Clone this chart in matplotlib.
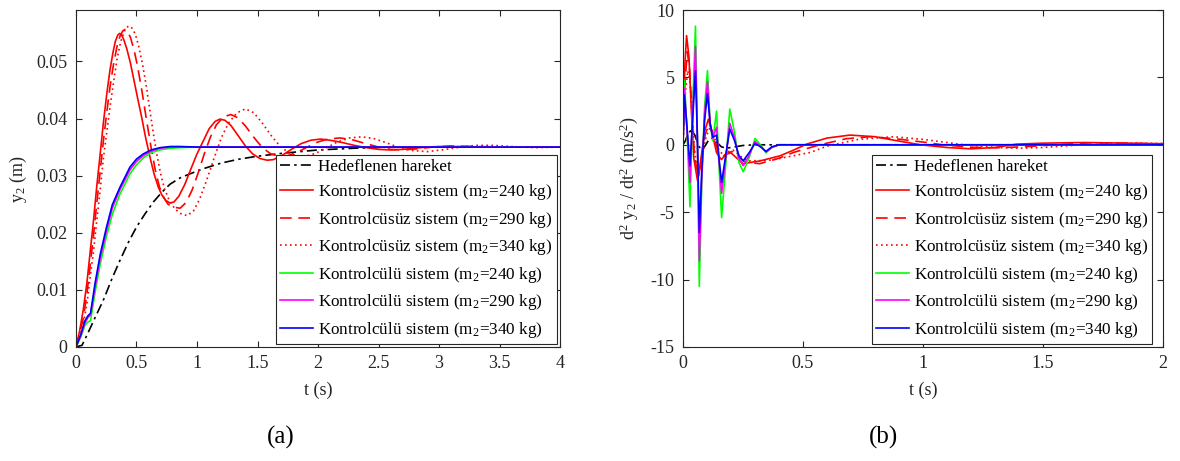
import matplotlib
matplotlib.use("Agg")
from matplotlib import pyplot as plt

plt.rcParams['font.family'] = ['Liberation Serif', 'DejaVu Serif']
plt.rcParams['mathtext.fontset'] = 'stix'
plt.rcParams['axes.unicode_minus'] = False

# ---- (a) displacement y2 (m) ----
t_ref_a = [0, 0.05, 0.1, 0.15, 0.226, 0.3, 0.364, 0.43, 0.5, 0.57, 0.64, 0.71, 0.777,
           0.86, 0.94, 1.05, 1.2, 1.35, 1.5, 1.7, 2.0, 2.3, 2.6, 4.0]
y_ref_a = [0, 0.0003, 0.0025, 0.0048, 0.0082, 0.0121, 0.0152, 0.0182, 0.021, 0.0233, 0.0254,
           0.0271, 0.0285, 0.0296, 0.0303, 0.0312, 0.0322, 0.0329, 0.0334, 0.0339, 0.0345,
           0.0348, 0.035, 0.035]

t_u240_a = [0, 0.03, 0.06, 0.09, 0.116, 0.145, 0.171, 0.2, 0.226, 0.255, 0.281, 0.305, 0.325,
            0.345, 0.36, 0.375, 0.395, 0.42, 0.45, 0.48, 0.51, 0.543, 0.575, 0.612, 0.645,
            0.68, 0.71, 0.74, 0.777, 0.81, 0.85, 0.9, 0.95, 1.0, 1.05, 1.1, 1.15, 1.19, 1.23,
            1.28, 1.34, 1.4, 1.46, 1.52, 1.58, 1.63, 1.7, 1.78, 1.86, 1.94, 2.02, 2.1, 2.2,
            2.3, 2.4, 2.5, 2.6, 2.7, 2.8, 2.9, 3.0, 3.2, 3.4, 4.0]
y_u240_a = [0, 0.0028, 0.0065, 0.0112, 0.0164, 0.0222, 0.028, 0.0338, 0.0392, 0.0444, 0.0485,
            0.0515, 0.0535, 0.0546, 0.0549, 0.0547, 0.0538, 0.0522, 0.0497, 0.0466, 0.0435,
            0.0402, 0.0367, 0.0332, 0.0303, 0.028, 0.0266, 0.0257, 0.0252, 0.0254, 0.0264,
            0.0285, 0.0312, 0.0338, 0.036, 0.0382, 0.0395, 0.0399, 0.0397, 0.0388, 0.037,
            0.0352, 0.0338, 0.033, 0.0327, 0.0328, 0.0335, 0.0346, 0.0356, 0.0362, 0.0364,
            0.0362, 0.0358, 0.0353, 0.0349, 0.0346, 0.0345, 0.0346, 0.0348, 0.035, 0.0351,
            0.0351, 0.035, 0.035]

t_u290_a = [0, 0.03, 0.06, 0.09, 0.116, 0.145, 0.171, 0.2, 0.226, 0.255, 0.281, 0.31, 0.34,
            0.365, 0.385, 0.405, 0.425, 0.45, 0.48, 0.51, 0.545, 0.584, 0.62, 0.655, 0.69,
            0.725, 0.76, 0.8, 0.86, 0.91, 0.96, 1.01, 1.06, 1.11, 1.16, 1.22, 1.28, 1.34,
            1.4, 1.47, 1.54, 1.61, 1.68, 1.75, 1.83, 1.92, 2.0, 2.08, 2.18, 2.28, 2.38, 2.5,
            2.6, 2.7, 2.82, 2.95, 3.1, 3.3, 3.6, 4.0]
y_u290_a = [0, 0.0022, 0.005, 0.0093, 0.014, 0.0196, 0.025, 0.0308, 0.036, 0.0412, 0.0455,
            0.0495, 0.0527, 0.0545, 0.0553, 0.0556, 0.0553, 0.0542, 0.052, 0.049, 0.0448,
            0.0396, 0.035, 0.031, 0.028, 0.0262, 0.025, 0.0245, 0.0243, 0.0253, 0.0275,
            0.0305, 0.0338, 0.0367, 0.0389, 0.0403, 0.0407, 0.0401, 0.0387, 0.0367, 0.0349,
            0.0338, 0.0334, 0.0335, 0.0341, 0.0351, 0.0359, 0.0364, 0.0366, 0.0363, 0.0357,
            0.035, 0.0346, 0.0345, 0.0347, 0.035, 0.0352, 0.0351, 0.035, 0.035]

t_u340_a = [0, 0.03, 0.06, 0.09, 0.116, 0.145, 0.171, 0.2, 0.226, 0.255, 0.281, 0.31, 0.34,
            0.37, 0.4, 0.42, 0.44, 0.46, 0.49, 0.52, 0.55, 0.58, 0.61, 0.64, 0.67, 0.7, 0.73,
            0.77, 0.82, 0.87, 0.92, 0.97, 1.02, 1.08, 1.14, 1.2, 1.26, 1.33, 1.4, 1.47, 1.54,
            1.61, 1.68, 1.75, 1.82, 1.9, 1.98, 2.07, 2.16, 2.26, 2.36, 2.46, 2.56, 2.66, 2.78,
            2.9, 3.02, 3.15, 3.3, 3.45, 3.6, 3.8, 4.0]
y_u340_a = [0, 0.0018, 0.004, 0.0075, 0.012, 0.0168, 0.022, 0.0275, 0.033, 0.0377, 0.042,
            0.0463, 0.0505, 0.0535, 0.0553, 0.056, 0.0562, 0.0559, 0.0548, 0.0525, 0.0495,
            0.0458, 0.0415, 0.0373, 0.0335, 0.0303, 0.0278, 0.0257, 0.0241, 0.0233, 0.023,
            0.0238, 0.0258, 0.0292, 0.033, 0.0366, 0.0392, 0.041, 0.0417, 0.041, 0.0392,
            0.0371, 0.0353, 0.0341, 0.0335, 0.0334, 0.0339, 0.0349, 0.0359, 0.0366, 0.0368,
            0.0365, 0.0358, 0.035, 0.0344, 0.0342, 0.0345, 0.0349, 0.0353, 0.0353, 0.0351,
            0.0349, 0.035]

t_c_a = [0, 0.04, 0.074, 0.1, 0.12, 0.157, 0.2, 0.25, 0.3, 0.364, 0.446, 0.5, 0.556, 0.62,
         0.694, 0.78, 0.86, 1.0, 4.0]
y_c240_a = [0, 0.0018, 0.0038, 0.0044, 0.0046, 0.0095, 0.0145, 0.0192, 0.0232, 0.0268,
            0.0303, 0.0319, 0.0331, 0.034, 0.0345, 0.0348, 0.0349, 0.035, 0.035]
y_c290_a = [0, 0.002, 0.0042, 0.0052, 0.0056, 0.0104, 0.0155, 0.0202, 0.0243, 0.0276,
            0.031, 0.0325, 0.0335, 0.0343, 0.0348, 0.035, 0.035, 0.035, 0.035]
y_c340_a = [0, 0.0022, 0.0046, 0.0055, 0.0059, 0.0111, 0.0162, 0.0208, 0.0249, 0.028,
            0.0315, 0.0329, 0.0338, 0.0345, 0.0349, 0.0351, 0.0351, 0.035, 0.035]

# ---- (b) acceleration d2y2/dt2 (m/s^2) ----
t_ref_b = [0, 0.01, 0.02, 0.035, 0.05, 0.065, 0.08, 0.095, 0.11, 0.125, 0.14, 0.16, 0.18,
           0.2, 0.25, 0.3, 0.4, 2.0]
a_ref_b = [0, 0.3, 0.8, 1.1, 0.7, -0.1, -0.4, 0.0, 0.45, 0.5, 0.2, -0.15, -0.25, -0.2, -0.05,
           0, 0, 0]

t_u240_b = [0, 0.008, 0.015, 0.025, 0.035, 0.045, 0.061, 0.075, 0.09, 0.106, 0.12, 0.14,
            0.16, 0.18, 0.2, 0.225, 0.25, 0.32, 0.404, 0.46, 0.515, 0.6, 0.696, 0.8, 0.876,
            0.99, 1.1, 1.2, 1.3, 1.39, 1.5, 1.67, 1.85, 2.0]
a_u240_b = [0, 6.0, 8.1, 6.5, 2.5, -1.0, -2.7, -1.0, 1.0, 1.9, 1.0, -0.6, -1.1, -0.7, -0.6,
            -1.0, -1.4, -1.2, -0.82, -0.4, 0.05, 0.5, 0.72, 0.6, 0.35, 0.0, -0.2, -0.3,
            -0.2, 0.05, 0.12, 0.17, 0.12, 0.08]

t_u290_b = [0, 0.008, 0.018, 0.028, 0.038, 0.048, 0.064, 0.078, 0.093, 0.11, 0.125, 0.145,
            0.165, 0.185, 0.205, 0.23, 0.26, 0.32, 0.4, 0.46, 0.57, 0.68, 0.78, 0.9, 1.015,
            1.08, 1.2, 1.3, 1.42, 1.55, 1.7, 1.85, 2.0]
a_u290_b = [0, 4.5, 6.9, 5.5, 2.2, -0.8, -2.4, -1.0, 0.8, 1.6, 0.8, -0.5, -0.9, -0.6, -0.5,
            -0.9, -1.3, -1.4, -1.0, -0.57, 0.0, 0.45, 0.6, 0.42, 0.17, 0.0, -0.18, -0.22,
            -0.15, 0.0, 0.15, 0.12, 0.05]

t_u340_b = [0, 0.008, 0.02, 0.03, 0.04, 0.05, 0.066, 0.08, 0.096, 0.113, 0.13, 0.15, 0.17,
            0.19, 0.21, 0.235, 0.27, 0.36, 0.45, 0.53, 0.6, 0.73, 0.876, 1.0, 1.1, 1.17, 1.3,
            1.4, 1.5, 1.62, 1.8, 2.0]
a_u340_b = [0, 3.5, 5.5, 4.5, 1.8, -0.7, -2.2, -0.9, 0.6, 1.3, 0.6, -0.4, -0.8, -0.5, -0.4,
            -0.8, -1.2, -1.15, -0.85, -0.57, -0.1, 0.4, 0.6, 0.4, 0.17, 0.0, -0.2, -0.25,
            -0.2, -0.05, 0.12, 0.1]

t_c_b = [0, 0.006, 0.018, 0.029, 0.04, 0.052, 0.06, 0.068, 0.078, 0.09, 0.102, 0.113, 0.124,
         0.14, 0.15, 0.161, 0.178, 0.195, 0.215, 0.233, 0.251, 0.275, 0.3, 0.323, 0.346,
         0.37, 0.4, 0.5, 2.0]
a_c240_b = [0, 4.8, 0.6, -4.6, 2.5, 8.8, 0.5, -10.5, -3.0, 2.8, 5.5, 1.6, 0.3, 2.5, -1.5,
            -5.4, -1.5, 2.65, 0.9, -1.3, -2.0, -1.0, 0.47, 0.0, -0.6, -0.2, 0, 0, 0]
a_c290_b = [0, 4.2, 0.8, -2.8, 2.2, 7.3, 0.5, -8.6, -2.5, 2.3, 4.7, 1.6, 0.5, 1.3, -1.2,
            -3.6, -1.0, 1.6, 0.5, -1.0, -1.55, -0.8, 0.25, -0.1, -0.5, -0.2, 0, 0, 0]
a_c340_b = [0, 3.7, 1.0, -1.55, 1.8, 5.5, 0.5, -6.5, -2.0, 1.8, 3.8, 1.6, 0.55, 0.72, -1.0,
            -2.8, -0.8, 1.17, 0.3, -0.8, -1.19, -0.6, 0.1, -0.15, -0.5, -0.15, 0, 0, 0]

labels = ['Hedeflenen hareket',
          r'Kontrolcüsüz sistem (m$_\mathregular{2}$=240 kg)',
          r'Kontrolcüsüz sistem (m$_\mathregular{2}$=290 kg)',
          r'Kontrolcüsüz sistem (m$_\mathregular{2}$=340 kg)',
          r'Kontrolcülü sistem (m$_\mathregular{2}$=240 kg)',
          r'Kontrolcülü sistem (m$_\mathregular{2}$=290 kg)',
          r'Kontrolcülü sistem (m$_\mathregular{2}$=340 kg)']

axcol = '#262626'
lw = 1.2


def style_axes(ax):
    for s in ax.spines.values():
        s.set_color(axcol)
        s.set_linewidth(0.8)
    ax.tick_params(direction='in', top=True, right=True, length=4, width=0.8,
                   colors=axcol, labelsize=13, labelcolor=axcol, pad=6)


def draw_lines(ax, series, anchor):
    styles = [dict(color='k', ls=(0, (6, 2.5, 1.5, 2.5))),
              dict(color='r', ls='-'),
              dict(color='r', ls=(0, (7, 4))),
              dict(color='r', ls=(0, (1, 2))),
              dict(color=(0, 1, 0), ls='-'),
              dict(color=(1, 0, 1), ls='-'),
              dict(color=(0, 0, 1), ls='-')]
    for (x, y), st, lab in zip(series, styles, labels):
        ax.plot(x, y, lw=lw, label=lab, **st)
    leg = ax.legend(loc='lower right', bbox_to_anchor=anchor, fontsize=12.3,
                    handlelength=1.95, handletextpad=0.3, labelspacing=0.44,
                    borderpad=0.22, borderaxespad=0.2, fancybox=False, framealpha=1)
    leg.get_frame().set_edgecolor(axcol)
    leg.get_frame().set_linewidth(0.8)


fig = plt.figure(figsize=(11.8, 4.61), dpi=100)
ax1 = fig.add_axes([0.0644, 0.2473, 0.4102, 0.731])
ax2 = fig.add_axes([0.5788, 0.2473, 0.4068, 0.731])

draw_lines(ax1, [(t_ref_a, y_ref_a), (t_u240_a, y_u240_a), (t_u290_a, y_u290_a),
                 (t_u340_a, y_u340_a), (t_c_a, y_c240_a), (t_c_a, y_c290_a),
                 (t_c_a, y_c340_a)], (1.0, 0.0))
ax1.set_xlim(0, 4)
ax1.set_ylim(0, 0.059)
ax1.set_xticks([0, 0.5, 1, 1.5, 2, 2.5, 3, 3.5, 4])
ax1.set_xticklabels(['0', '0.5', '1', '1.5', '2', '2.5', '3', '3.5', '4'])
ax1.set_yticks([0, 0.01, 0.02, 0.03, 0.04, 0.05])
ax1.set_yticklabels(['0', '0.01', '0.02', '0.03', '0.04', '0.05'])
ax1.set_xlabel('t (s)', fontsize=13, color=axcol, labelpad=7)
ax1.set_ylabel(r'y$_\mathregular{2}$ (m)', fontsize=13, color=axcol, labelpad=5)
style_axes(ax1)

draw_lines(ax2, [(t_ref_b, a_ref_b), (t_u240_b, a_u240_b), (t_u290_b, a_u290_b),
                 (t_u340_b, a_u340_b), (t_c_b, a_c240_b), (t_c_b, a_c290_b),
                 (t_c_b, a_c340_b)], (0.985, 0.0))
ax2.set_xlim(0, 2)
ax2.set_ylim(-15, 10)
ax2.set_xticks([0, 0.5, 1, 1.5, 2])
ax2.set_xticklabels(['0', '0.5', '1', '1.5', '2'])
ax2.set_yticks([-15, -10, -5, 0, 5, 10])
ax2.set_xlabel('t (s)', fontsize=13, color=axcol, labelpad=7)
ax2.set_ylabel(r'd$^\mathregular{2}$ y$_\mathregular{2}$ / dt$^\mathregular{2}$ (m/s$^\mathregular{2}$)',
               fontsize=13, color=axcol, labelpad=8)
style_axes(ax2)

fig.text(281 / 1180, 1 - 437 / 461, '(a)', fontsize=18, ha='center', va='center')
fig.text(883 / 1180, 1 - 437 / 461, '(b)', fontsize=18, ha='center', va='center')

plt.savefig('out.png', dpi=100)
